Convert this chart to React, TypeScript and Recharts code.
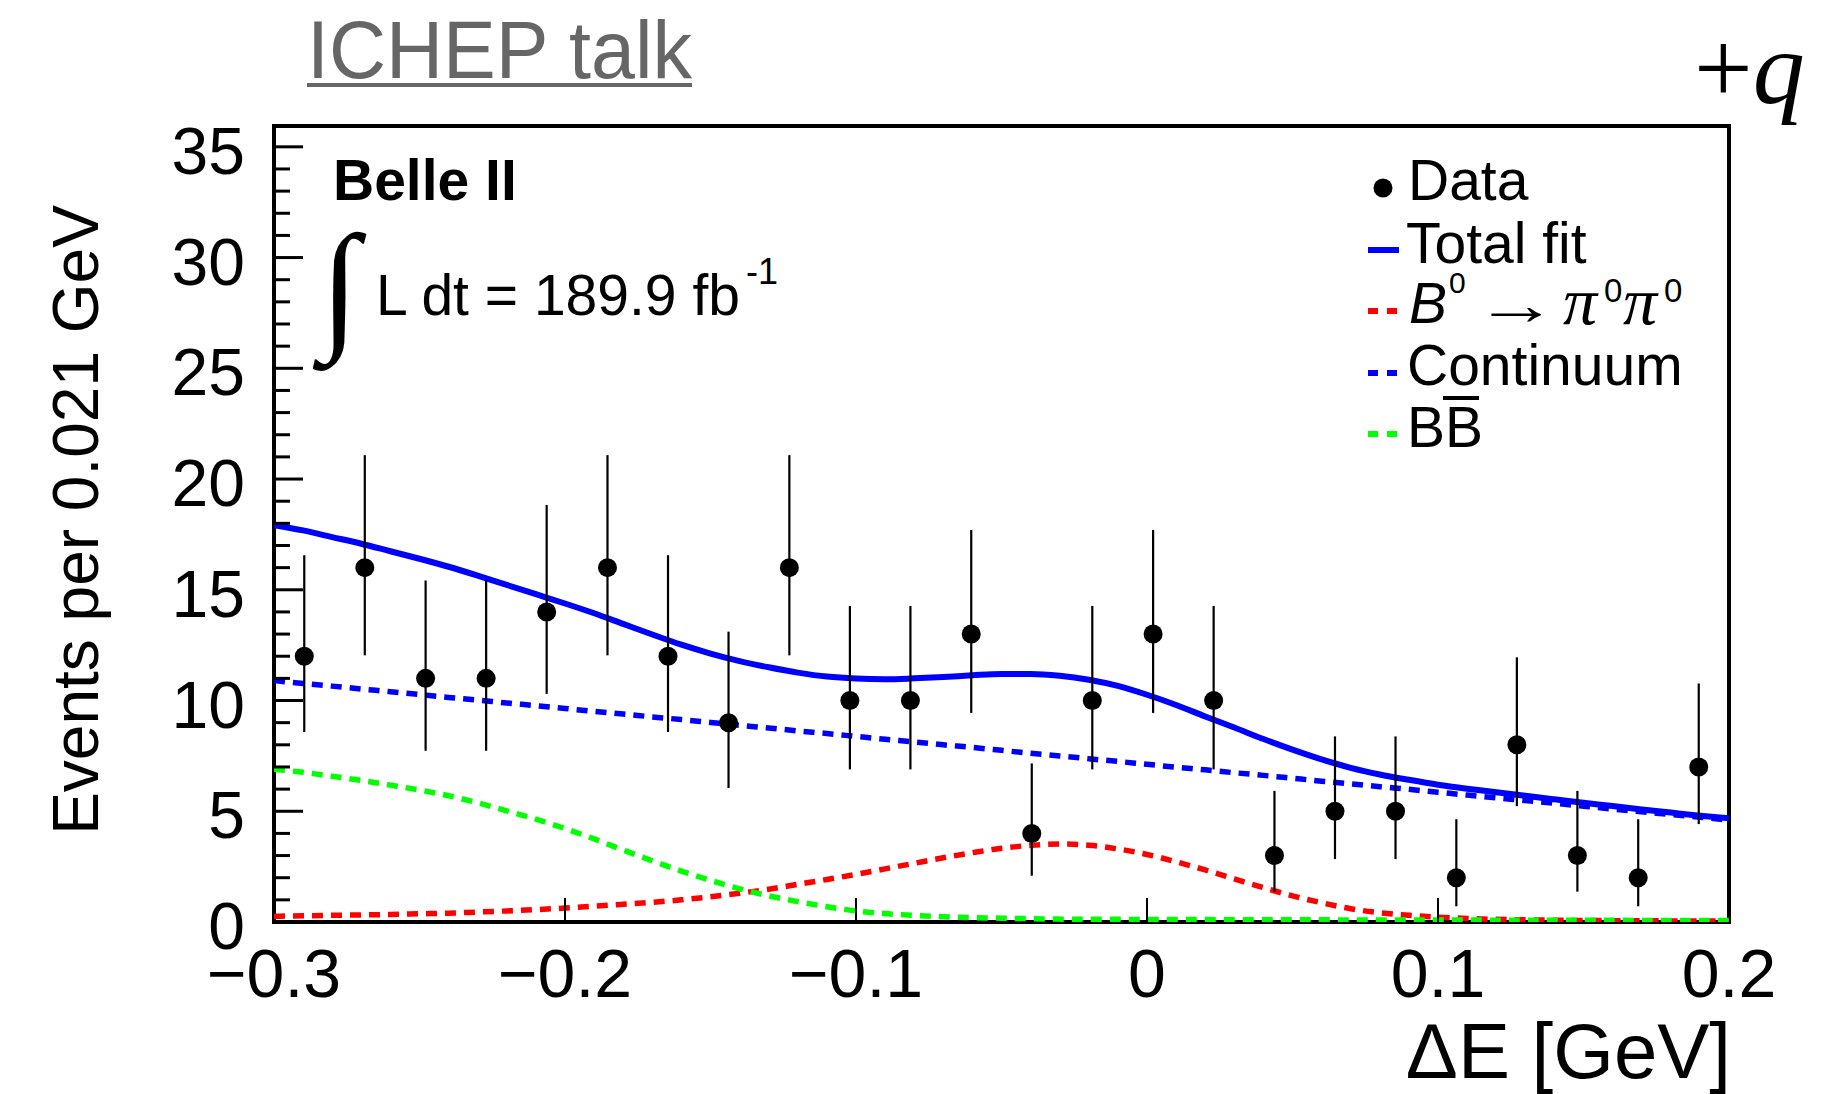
import { ComposedChart, Line, Scatter, ErrorBar, XAxis, YAxis, ReferenceArea } from 'recharts';

// data points: bin centres (24 bins between -0.3 and 0.2), event counts, Poisson errors
const binCenters = [
  -0.2896, -0.2688, -0.2479, -0.2271, -0.2063, -0.1854, -0.1646, -0.1438, -0.1229, -0.1021, -0.0813, -0.0604,
  -0.0396, -0.0188, 0.0021, 0.0229, 0.0438, 0.0646, 0.0854, 0.1063, 0.1271, 0.1479, 0.1688, 0.1896,
];
const counts = [12, 16, 11, 11, 14, 16, 12, 9, 16, 10, 10, 13, 4, 10, 13, 10, 3, 5, 5, 2, 8, 3, 2, 7];
const errLow = [
  3.42, 3.96, 3.27, 3.27, 3.7, 3.96, 3.42, 2.95, 3.96, 3.11, 3.11, 3.56, 1.91, 3.11, 3.56, 3.11, 1.63, 2.16, 2.16,
  1.29, 2.77, 1.63, 1.29, 2.58,
];
const errHigh = [
  4.56, 5.08, 4.42, 4.42, 4.83, 5.08, 4.56, 4.11, 5.08, 4.27, 4.27, 4.7, 3.16, 4.27, 4.7, 4.27, 2.92, 3.38, 3.38,
  2.64, 3.95, 2.92, 2.64, 3.77,
];

// fit curves sampled every 0.01 GeV
const curveX = [
  -0.3, -0.29, -0.28, -0.27, -0.26, -0.25, -0.24, -0.23, -0.22, -0.21, -0.2, -0.19, -0.18, -0.17, -0.16, -0.15, -0.14,
  -0.13, -0.12, -0.11, -0.1, -0.09, -0.08, -0.07, -0.06, -0.05, -0.04, -0.03, -0.02, -0.01, 0, 0.01, 0.02, 0.03, 0.04,
  0.05, 0.06, 0.07, 0.08, 0.09, 0.1, 0.11, 0.12, 0.13, 0.14, 0.15, 0.16, 0.17, 0.18, 0.19, 0.2,
];
const totalFit = [
  17.92, 17.68, 17.38, 17.08, 16.74, 16.4, 16.04, 15.64, 15.22, 14.8, 14.38, 13.94, 13.46, 12.98, 12.52, 12.12, 11.78,
  11.5, 11.26, 11.08, 10.99, 10.96, 11.0, 11.06, 11.14, 11.2, 11.2, 11.12, 10.94, 10.66, 10.26, 9.8, 9.28, 8.78, 8.26,
  7.78, 7.34, 6.96, 6.66, 6.42, 6.2, 6.02, 5.86, 5.7, 5.54, 5.38, 5.24, 5.08, 4.94, 4.8, 4.68,
];
const signal = [
  0.26, 0.28, 0.3, 0.32, 0.34, 0.37, 0.4, 0.45, 0.5, 0.56, 0.63, 0.71, 0.8, 0.89, 1.0, 1.14, 1.3, 1.48, 1.7, 1.92, 2.15,
  2.4, 2.65, 2.9, 3.13, 3.33, 3.46, 3.52, 3.47, 3.3, 3.05, 2.72, 2.35, 1.95, 1.55, 1.18, 0.87, 0.6, 0.42, 0.3, 0.22,
  0.16, 0.12, 0.1, 0.08, 0.07, 0.06, 0.06, 0.05, 0.05, 0.05,
];
const continuum = [
  10.9, 10.77, 10.65, 10.52, 10.4, 10.27, 10.14, 10.02, 9.89, 9.77, 9.64, 9.51, 9.39, 9.26, 9.14, 9.01, 8.88, 8.76,
  8.63, 8.51, 8.38, 8.25, 8.13, 8.0, 7.88, 7.75, 7.62, 7.5, 7.37, 7.25, 7.12, 6.99, 6.87, 6.74, 6.62, 6.49, 6.36, 6.24,
  6.11, 5.99, 5.86, 5.73, 5.61, 5.48, 5.36, 5.23, 5.1, 4.98, 4.85, 4.73, 4.6,
];
const bbbar = [
  6.9, 6.76, 6.58, 6.39, 6.18, 5.96, 5.7, 5.38, 5.02, 4.64, 4.22, 3.75, 3.25, 2.76, 2.3, 1.88, 1.5, 1.18, 0.92, 0.69,
  0.5, 0.38, 0.3, 0.24, 0.2, 0.17, 0.15, 0.13, 0.12, 0.12, 0.11, 0.11, 0.11, 0.1, 0.1, 0.1, 0.1, 0.09, 0.09, 0.09, 0.09,
  0.09, 0.08, 0.08, 0.08, 0.08, 0.08, 0.07, 0.07, 0.07, 0.07,
];

const xTicks = [-0.3, -0.2, -0.1, 0, 0.1, 0.2];
const xTickLabels = ['\u22120.3', '\u22120.2', '\u22120.1', '0', '0.1', '0.2'];
const yTicks = [
  0, 1, 2, 3, 4, 5, 6, 7, 8, 9, 10, 11, 12, 13, 14, 15, 16, 17, 18, 19, 20, 21, 22, 23, 24, 25, 26, 27, 28, 29, 30, 31,
  32, 33, 34, 35,
];

const X_MIN = -0.3;
const X_MAX = 0.2;
const Y_MAX = 35.94;
const FONT = '"Liberation Sans", Arial, Helvetica, sans-serif';
const SERIF = '"Liberation Serif", "Times New Roman", serif';

const points = binCenters.map((x, i) => ({ x, y: counts[i], err: [errLow[i], errHigh[i]] }));
const toSeries = (vals: number[]) => curveX.map((x, i) => ({ x, y: vals[i] }));

const YTick = (props: any) => {
  const { x, y, payload } = props;
  const major = payload.value % 5 === 0;
  return (
    <g>
      <line x1={x} x2={x + (major ? 29 : 16)} y1={y} y2={y} stroke="#000" strokeWidth={3} />
      {major && (
        <text x={x - 29} y={y + 27} textAnchor="end" fontSize={66} fontFamily={FONT} fill="#000">
          {payload.value}
        </text>
      )}
    </g>
  );
};

const XTick = (props: any) => {
  const { x, y, payload, index } = props;
  const inner = payload.value > X_MIN && payload.value < X_MAX;
  return (
    <g>
      {inner && <line x1={x} x2={x} y1={y} y2={y - 24} stroke="#000" strokeWidth={2} />}
      <text x={x} y={y + 75} textAnchor="middle" fontSize={68} fontFamily={FONT} fill="#000">
        {xTickLabels[index]}
      </text>
    </g>
  );
};

const Dot = (props: any) => <circle cx={props.cx} cy={props.cy} r={9.5} fill="#000" />;

export default function App() {
  return (
    <div style={{ position: 'absolute', left: 0, top: 0, width: 1829, height: 1094, background: '#fff' }}>
      <ComposedChart
        width={1829}
        height={1094}
        margin={{ top: 126, right: 100, bottom: 171, left: 273 }}
      >
        <XAxis
          type="number"
          dataKey="x"
          domain={[X_MIN, X_MAX]}
          ticks={xTicks}
          interval={0}
          allowDataOverflow
          height={1}
          tickSize={0}
          tickMargin={0}
          axisLine={false}
          tickLine={false}
          tick={<XTick />}
        />
        <YAxis
          type="number"
          domain={[0, Y_MAX]}
          ticks={yTicks}
          interval={0}
          allowDataOverflow
          width={1}
          tickSize={0}
          tickMargin={0}
          axisLine={false}
          tickLine={false}
          tick={<YTick />}
        />
        <ReferenceArea x1={X_MIN} x2={X_MAX} y1={0} y2={Y_MAX} fill="none" stroke="#000" strokeWidth={4} />
        <Line data={toSeries(continuum)} dataKey="y" type="monotone" stroke="#0000ff" strokeWidth={5.5}
          strokeDasharray="11 8" dot={false} activeDot={false} isAnimationActive={false} />
        <Line data={toSeries(signal)} dataKey="y" type="monotone" stroke="#ff0000" strokeWidth={5.5}
          strokeDasharray="11 8" dot={false} activeDot={false} isAnimationActive={false} />
        <Line data={toSeries(bbbar)} dataKey="y" type="monotone" stroke="#00ff00" strokeWidth={5.5}
          strokeDasharray="11 8" dot={false} activeDot={false} isAnimationActive={false} />
        <Line data={toSeries(totalFit)} dataKey="y" type="monotone" stroke="#0000ff" strokeWidth={6}
          dot={false} activeDot={false} isAnimationActive={false} />
        <Scatter data={points} dataKey="y" shape={<Dot />} isAnimationActive={false}>
          <ErrorBar dataKey="err" direction="y" width={0} stroke="#000" strokeWidth={2.2} isAnimationActive={false} />
        </Scatter>
      </ComposedChart>

      {/* titles, labels and legend */}
      <svg width={1829} height={1094} style={{ position: 'absolute', left: 0, top: 0, pointerEvents: 'none' }}>
        <text x={307} y={78} fontSize={82} fontFamily={FONT} fill="#666" textLength={385} lengthAdjust="spacingAndGlyphs">
          ICHEP talk
        </text>
        <rect x={307} y={83} width={385} height={4} fill="#666" />
        <text x={1694} y={103} fontSize={104} fontFamily={SERIF} fill="#000">
          +<tspan fontStyle="italic">q</tspan>
        </text>

        <text x={333} y={200} fontSize={57} fontWeight="bold" fontFamily={FONT} fill="#000">Belle II</text>
        <text x={320} y={333} fontSize={142} fontWeight="bold" fontFamily={SERIF} fill="#000">∫</text>
        <text x={376} y={315} fontSize={57} fontFamily={FONT} fill="#000">L dt = 189.9 fb</text>
        <text x={746} y={284} fontSize={36} fontFamily={FONT} fill="#000">-1</text>

        <text transform="rotate(-90 98 520)" x={98} y={520} textAnchor="middle" fontSize={64} fontFamily={FONT} fill="#000">
          Events per 0.021 GeV
        </text>
        <text x={1731} y={1078} textAnchor="end" fontSize={78} fontFamily={FONT} fill="#000">ΔE [GeV]</text>

        <g fontFamily={FONT} fontSize={57} fill="#000">
          <circle cx={1383} cy={188} r={9.5} fill="#000" />
          <text x={1408} y={200}>Data</text>
          <line x1={1368} x2={1399} y1={250} y2={250} stroke="#0000ff" strokeWidth={6} />
          <text x={1406} y={263}>Total fit</text>
          <line x1={1368} x2={1397} y1={311} y2={311} stroke="#ff0000" strokeWidth={6} strokeDasharray="10 9" />
          <text x={1409} y={323} fontStyle="italic">B</text>
          <text x={1449} y={293} fontSize={30}>0</text>
          <text transform="translate(1474 324) scale(1.47 1)" x={0} y={0} fontSize={57}>→</text>
          <text x={1563} y={324} fontSize={68} fontFamily={SERIF} fontStyle="italic">π</text>
          <text x={1604} y={302} fontSize={33}>0</text>
          <text x={1623} y={324} fontSize={68} fontFamily={SERIF} fontStyle="italic">π</text>
          <text x={1664} y={302} fontSize={33}>0</text>
          <line x1={1368} x2={1397} y1={373} y2={373} stroke="#0000ff" strokeWidth={6} strokeDasharray="10 9" />
          <text x={1407} y={385}>Continuum</text>
          <line x1={1368} x2={1397} y1={434} y2={434} stroke="#00ff00" strokeWidth={6} strokeDasharray="10 9" />
          <text x={1407} y={447}>BB</text>
          <rect x={1443} y={396} width={36} height={4} fill="#000" />
        </g>
      </svg>
    </div>
  );
}
